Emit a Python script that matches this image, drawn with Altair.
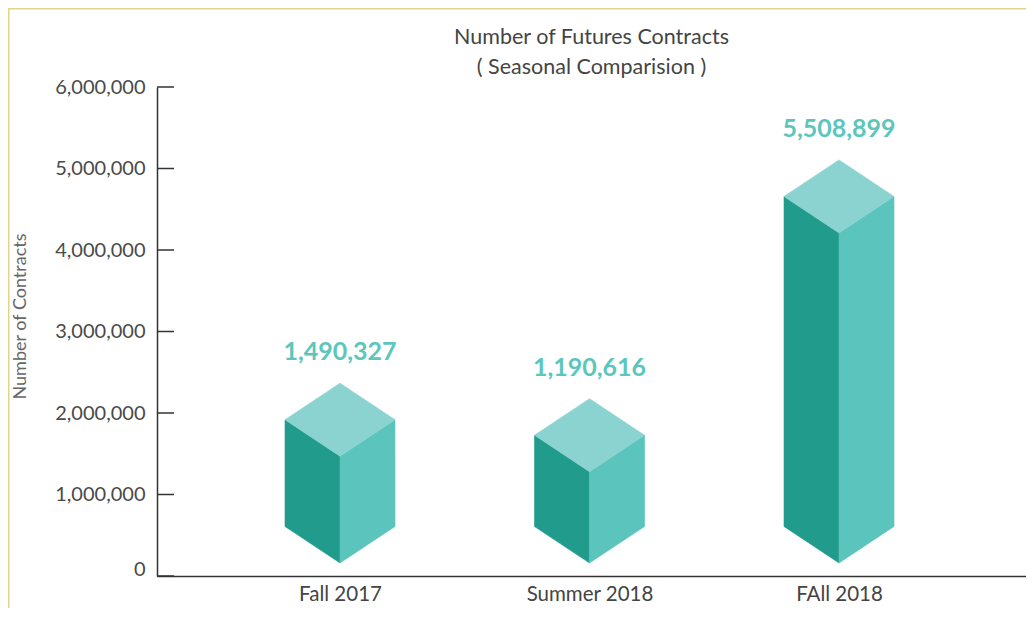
import json
import altair as alt
import pandas as pd

# ---- data ----
categories = ["Fall 2017", "Summer 2018", "FAll 2018"]
contracts = [1490327, 1190616, 5508899]            # printed value labels
bar_front_top = [1_470_000, 1_280_000, 4_210_000]  # drawn height of each box's front edge (axis units)
y_ticks = [0, 1_000_000, 2_000_000, 3_000_000, 4_000_000, 5_000_000, 6_000_000]
title_lines = ["Number of Futures Contracts", "( Seasonal Comparision )"]
y_title = "Number of Contracts"

# ---- layout / style ----
W, H = 869, 489
Y_MAX = 6_000_000
X_DOM = [0.2665, 3.7495]
px_y = Y_MAX / H                      # axis units per pixel (y)
px_x = (X_DOM[1] - X_DOM[0]) / W      # slot units per pixel (x)
half_w = 55 * px_x                     # half width of box
depth = 36.5 * px_y                    # isometric depth offset
floor = 13 * px_y                      # box front bottom above baseline

C_LEFT, C_RIGHT, C_TOP = "#219b8b", "#5bc4bc", "#8ad3d0"
C_LABEL = "#5cc6bd"
FONT = "Lato"

rows = []
for i, (cat, top) in enumerate(zip(categories, bar_front_top)):
    c = i + 1
    B, T, d = floor, top, depth
    k = cat
    rows += [
        dict(key=k + "L", face="left", x=c - half_w, hi=T + d, lo=B + d),
        dict(key=k + "L", face="left", x=c, hi=T, lo=B),
        dict(key=k + "R", face="right", x=c, hi=T, lo=B),
        dict(key=k + "R", face="right", x=c + half_w, hi=T + d, lo=B + d),
        dict(key=k + "T", face="top", x=c - half_w, hi=T + d, lo=T + d),
        dict(key=k + "T", face="top", x=c, hi=T + 2 * d, lo=T),
        dict(key=k + "T", face="top", x=c + half_w, hi=T + d, lo=T + d),
    ]
faces = pd.DataFrame(rows)

labels = pd.DataFrame({
    "cat": categories,
    "slot": [i + 1 for i in range(len(categories))],
    "value": contracts,
    "ly": [t + 2 * depth for t in bar_front_top],
})
ticks = pd.DataFrame({"t": y_ticks})

label_expr = json.dumps(categories) + "[datum.value - 1]"

x_scale = alt.Scale(domain=X_DOM, nice=False, zero=False)
y_scale = alt.Scale(domain=[0, Y_MAX], nice=False)

x_axis = alt.Axis(values=[1, 2, 3], labelExpr=label_expr, title=None, grid=False,
                  ticks=False, domainColor="#333333", domainWidth=1.5,
                  labelFont=FONT, labelFontSize=20.5, labelColor="#444444",
                  labelPadding=8)
y_axis = alt.Axis(values=y_ticks, format=",d", grid=False, ticks=False,
                  domainColor="#333333", domainWidth=1.5,
                  labelFont=FONT, labelFontSize=20, labelColor="#4a4a4a",
                  labelPadding=12,
                  labelOffset={"condition": {"test": "datum.value === 0", "value": -7}, "value": 0},
                  title=y_title, titleFont=FONT, titleFontSize=18,
                  titleFontWeight="normal", titleColor="#666666",
                  titleAngle=270, titleAlign="center", titleBaseline="middle",
                  titleX=-137, titleY=229)

boxes = alt.Chart(faces).mark_area(strokeWidth=0.6).encode(
    x=alt.X("x:Q", scale=x_scale, axis=x_axis),
    y=alt.Y("hi:Q", scale=y_scale, axis=y_axis, stack=None),
    y2="lo:Q",
    color=alt.Color("face:N", scale=alt.Scale(domain=["left", "right", "top"],
                                              range=[C_LEFT, C_RIGHT, C_TOP]), legend=None),
    stroke=alt.Stroke("face:N", scale=alt.Scale(domain=["left", "right", "top"],
                                                range=[C_LEFT, C_RIGHT, C_TOP]), legend=None),
    detail="key:N",
)

value_text = alt.Chart(labels).mark_text(
    font=FONT, fontSize=25, fontWeight="bold", color=C_LABEL, baseline="middle", dy=-31
).encode(
    x=alt.X("slot:Q", scale=x_scale, axis=x_axis),
    y=alt.Y("ly:Q", scale=y_scale, axis=y_axis),
    text=alt.Text("value:Q", format=",d"),
)

tick_marks = alt.Chart(ticks).mark_rule(color="#333333", strokeWidth=1.5).encode(
    y=alt.Y("t:Q", scale=y_scale, axis=y_axis),
    x=alt.value(0),
    x2=alt.value(17),
)

one = alt.Data(values=[{"a": 1}])
title_text = alt.Chart(one).mark_text(
    font=FONT, fontSize=21.5, color="#444444", baseline="top", align="center", lineHeight=30
).encode(x=alt.value(W / 2), y=alt.value(-60), text=alt.value(title_lines))

frame_left = alt.Chart(one).mark_rule(color="#e3d48c", strokeWidth=2).encode(
    x=alt.value(-148.5), y=alt.value(-80), y2=alt.value(700))
frame_top = alt.Chart(one).mark_rule(color="#e3d48c", strokeWidth=2).encode(
    y=alt.value(-78.5), x=alt.value(-160), x2=alt.value(1000))

chart = alt.layer(boxes, value_text, tick_marks, title_text, frame_left, frame_top).properties(
    width=W, height=H,
    background="white",
    autosize=alt.AutoSizeParams(type="none"),
    padding={"left": 149, "top": 79, "right": 0, "bottom": 32},
).configure_view(stroke=None)

chart.save("out.html", embed_options={"renderer": "svg", "actions": False})
